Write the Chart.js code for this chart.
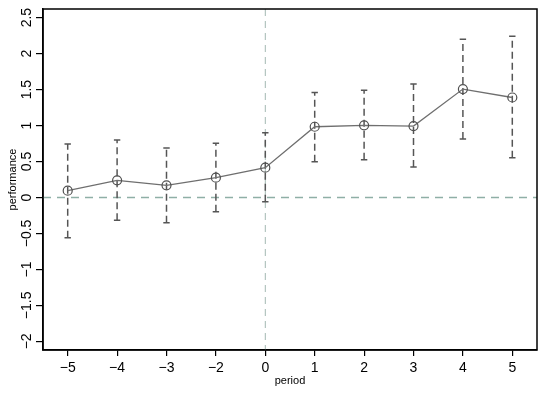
<!DOCTYPE html>
<html>
<head>
<meta charset="utf-8">
<script src="https://cdn.jsdelivr.net/npm/chart.js@4.4.1/dist/chart.umd.min.js"></script>
<style>
html,body{margin:0;padding:0;background:#fff;}
#wrap{width:550px;height:393px;}
</style>
</head>
<body>
<div id="wrap"><canvas id="c" width="550" height="393"></canvas></div>
<script>
// ---- data ----
const periods = [-5, -4, -3, -2, 0, 1, 2, 3, 4, 5];
const estimate = [0.094, 0.239, 0.169, 0.275, 0.414, 0.983, 1.003, 0.993, 1.507, 1.39];
const lower = [-0.558, -0.317, -0.35, -0.20, -0.058, 0.497, 0.525, 0.424, 0.812, 0.553];
const upper = [0.743, 0.80, 0.688, 0.753, 0.90, 1.46, 1.49, 1.576, 2.20, 2.24];
const yTicks = [-2, -1.5, -1, -0.5, 0, 0.5, 1, 1.5, 2, 2.5];

const fmt = v => (v < 0 ? '\u2212' + String(Math.abs(v)) : String(v));
const labels = periods.map(fmt);

const lineColor = '#6f6f6f';
const barColor = '#555555';

const datasets = [{
  type: 'line',
  data: estimate,
  borderColor: lineColor,
  borderWidth: 1.3,
  pointStyle: 'circle',
  pointRadius: 4.5,
  pointBorderColor: '#505050',
  pointBorderWidth: 1.2,
  pointBackgroundColor: 'rgba(0,0,0,0)',
  tension: 0,
  fill: false
}];
labels.forEach((lab, i) => {
  datasets.push({
    type: 'line',
    data: [{x: lab, y: lower[i]}, {x: lab, y: upper[i]}],
    borderColor: barColor,
    borderWidth: 1.5,
    borderDash: [7, 4],
    pointStyle: 'line',
    pointRadius: 3.2,
    pointBorderColor: barColor,
    pointBorderWidth: 1.5,
    fill: false
  });
});

const refLines = {
  id: 'refLines',
  beforeDatasetsDraw(chart) {
    const {ctx, chartArea: a, scales: {x, y}} = chart;
    ctx.save();
    const y0 = y.getPixelForValue(0);
    ctx.strokeStyle = '#8fafa6';
    ctx.lineWidth = 1.5;
    ctx.setLineDash([8, 6]);
    ctx.beginPath(); ctx.moveTo(a.left, y0); ctx.lineTo(a.right, y0); ctx.stroke();
    const x0 = x.getPixelForValue(labels.indexOf('0'));
    ctx.strokeStyle = '#a3b8b2';
    ctx.lineWidth = 1;
    ctx.setLineDash([7, 5]);
    ctx.beginPath(); ctx.moveTo(x0, a.top); ctx.lineTo(x0, a.bottom); ctx.stroke();
    ctx.restore();
  },
  afterDraw(chart) {
    const {ctx, chartArea: a} = chart;
    ctx.save();
    ctx.strokeStyle = '#000';
    ctx.lineWidth = 1.5;
    ctx.strokeRect(a.left, a.top, a.right - a.left, a.bottom - a.top);
    ctx.restore();
  }
};

const font = 'Liberation Sans, Arial, Helvetica, sans-serif';

new Chart(document.getElementById('c'), {
  type: 'line',
  data: {labels: labels, datasets: datasets},
  options: {
    responsive: false,
    animation: false,
    layout: {padding: {left: 0, right: 13, top: 9, bottom: 0}},
    plugins: {legend: {display: false}, tooltip: {enabled: false}},
    scales: {
      x: {
        type: 'category',
        offset: true,
        grid: {drawOnChartArea: false, drawTicks: true, tickLength: 6, color: '#000', lineWidth: 1.2, offset: false},
        border: {display: true, color: '#000', width: 1.5},
        ticks: {color: '#000', font: {family: font, size: 14}, padding: 4, autoSkip: false, maxRotation: 0},
        title: {display: true, text: 'period', color: '#000', font: {family: font, size: 11}, padding: {top: 0, bottom: 5}},
        afterFit(s) { s.height = 43; }
      },
      y: {
        type: 'linear',
        min: -2.12,
        max: 2.62,
        afterBuildTicks(s) { s.ticks = yTicks.map(v => ({value: v})); },
        grid: {drawOnChartArea: false, drawTicks: true, tickLength: 7, color: '#000', lineWidth: 1.2},
        border: {display: true, color: '#000', width: 1.5},
        ticks: {color: '#000', font: {family: font, size: 14}, minRotation: 90, maxRotation: 90,
                crossAlign: 'center', padding: -4.5, autoSkip: false,
                callback: v => fmt(v)},
        title: {display: true, text: 'performance', color: '#000', font: {family: font, size: 11}, padding: {top: 6, bottom: 0}},
        afterFit(s) { s.width = 43; }
      }
    }
  },
  plugins: [refLines]
});
</script>
</body>
</html>
